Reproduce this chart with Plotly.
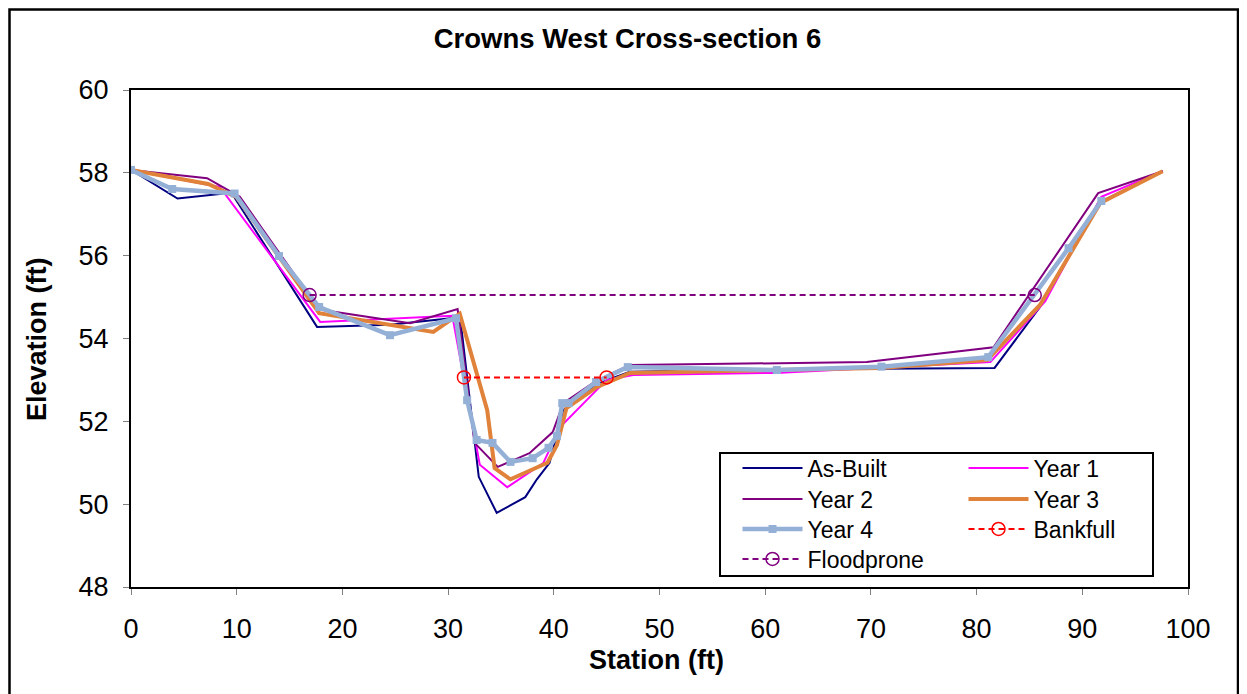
import plotly.graph_objects as go

# --- survey data (station ft, elevation ft) ---
asbuilt_x = [0, 4.4, 9.5, 17.6, 24.5, 30.7, 31.1, 32.9, 34.6, 37.3, 38.4, 39.6, 40.9, 44.0, 47.2, 60.0, 81.7, 86.0, 91.5, 97.6]
asbuilt_y = [58.07, 57.38, 57.52, 54.28, 54.33, 54.50, 54.60, 50.66, 49.79, 50.17, 50.60, 51.00, 52.27, 52.90, 53.20, 53.25, 53.29, 54.76, 57.27, 58.04]

year1_x = [0, 8.4, 17.9, 30.4, 33.0, 35.6, 39.0, 40.6, 45.0, 47.5, 61.0, 81.3, 86.5, 91.8, 97.6]
year1_y = [58.07, 57.66, 54.40, 54.55, 50.95, 50.41, 50.99, 51.86, 53.00, 53.12, 53.17, 53.43, 54.90, 57.42, 58.04]

year2_x = [0, 7.2, 10.3, 17.8, 26.4, 30.9, 32.5, 34.7, 37.7, 39.9, 40.9, 44.0, 47.2, 69.6, 81.6, 91.5, 97.6]
year2_y = [58.07, 57.87, 57.42, 54.70, 54.37, 54.71, 51.48, 50.90, 51.23, 51.74, 52.44, 52.98, 53.36, 53.43, 53.79, 57.51, 58.04]

year3_x = [0, 7.3, 10.0, 17.8, 28.6, 31.1, 33.7, 34.4, 35.9, 39.4, 40.3, 41.2, 44.1, 47.2, 70.9, 81.0, 86.0, 91.7, 97.6]
year3_y = [58.07, 57.73, 57.41, 54.61, 54.16, 54.60, 52.27, 50.87, 50.60, 51.00, 51.43, 52.32, 52.83, 53.17, 53.29, 53.48, 54.81, 57.27, 58.04]

year4_x = [0, 3.9, 9.8, 14.0, 17.8, 24.5, 30.75, 31.8, 32.7, 34.2, 35.9, 38.0, 39.5, 40.3, 40.8, 41.4, 44.0, 47.0, 61.1, 71.0, 81.1, 88.7, 91.8]
year4_y = [58.07, 57.61, 57.50, 55.99, 54.76, 54.08, 54.49, 52.51, 51.55, 51.48, 51.02, 51.11, 51.36, 51.65, 52.44, 52.44, 52.95, 53.31, 53.24, 53.32, 53.55, 56.18, 57.32]

bankfull_x = [31.5, 45.0]
bankfull_y = [53.06, 53.06]

floodprone_x = [16.9, 85.5]
floodprone_y = [55.05, 55.05]

FONT = "Liberation Sans, Arial, sans-serif"

# page body has an 8px margin, so the figure is sized/offset to suit
W, H = 1239, 686
ML, MR, MT, MB = 123, 59, 82, 107
PW, PH = W - ML - MR, H - MT - MB  # 1057 x 497


def px_x(px):
    # screen px (reference picture) -> paper x
    return (px - 8 - ML) / PW


def px_y(py):
    return (H - MB - (py - 8)) / PH


fig = go.Figure()

fig.add_trace(go.Scatter(x=asbuilt_x, y=asbuilt_y, name="As-Built", mode="lines",
                         line=dict(color="#000080", width=2), legend="legend"))
fig.add_trace(go.Scatter(x=year1_x, y=year1_y, name="Year 1", mode="lines",
                         line=dict(color="#FF00FF", width=2), legend="legend2"))
fig.add_trace(go.Scatter(x=year2_x, y=year2_y, name="Year 2", mode="lines",
                         line=dict(color="#800080", width=2), legend="legend3"))
fig.add_trace(go.Scatter(x=year3_x, y=year3_y, name="Year 3", mode="lines",
                         line=dict(color="#E0823A", width=4), legend="legend4"))
fig.add_trace(go.Scatter(x=year4_x, y=year4_y, name="Year 4", mode="lines+markers",
                         line=dict(color="#95B0D6", width=4.5),
                         marker=dict(symbol="square", size=8, color="#95B0D6"), legend="legend5"))
fig.add_trace(go.Scatter(x=bankfull_x, y=bankfull_y, name="Bankfull", mode="lines+markers",
                         line=dict(color="#FF0000", width=2, dash="6px,4px"),
                         marker=dict(symbol="circle-open", size=13, color="#FF0000",
                                     line=dict(width=1.5)), legend="legend6"))
fig.add_trace(go.Scatter(x=floodprone_x, y=floodprone_y, name="Floodprone", mode="lines+markers",
                         line=dict(color="#800080", width=2, dash="6px,4px"),
                         marker=dict(symbol="circle-open", size=13, color="#800080",
                                     line=dict(width=1.5)), legend="legend7"))

axis_common = dict(
    showline=True, linecolor="black", linewidth=2, mirror=True,
    showgrid=False, zeroline=False,
    ticks="outside", ticklen=6, tickcolor="#808080", tickwidth=1,
    tickfont=dict(family=FONT, size=27, color="black"),
)

legend_common = dict(
    font=dict(family=FONT, size=23, color="black"),
    bgcolor="rgba(255,255,255,0)", borderwidth=0,
    xanchor="left", yanchor="top", orientation="v",
    itemwidth=60,
)

# one legend per entry, laid out in two columns like the original key
col1, col2 = px_x(737.5), px_x(963.5)
rows = [px_y(446.5), px_y(477.5), px_y(507.5), px_y(537.5)]

fig.update_layout(
    width=W, height=H,
    margin=dict(l=ML, r=MR, t=MT, b=MB),
    paper_bgcolor="white", plot_bgcolor="white",
    font=dict(family=FONT, color="black"),
    title=dict(text="<b>Crowns West Cross-section 6</b>", x=0.5, xanchor="center",
               y=1 - 30 / H, yanchor="middle", font=dict(family=FONT, size=27.5)),
    xaxis=dict(range=[0, 100], tickvals=list(range(0, 101, 10)), ticklabelstandoff=11, **axis_common),
    yaxis=dict(range=[48, 60], tickvals=list(range(48, 61, 2)), ticklabelstandoff=9, **axis_common),
    legend=dict(x=col1, y=rows[0], **legend_common),
    legend2=dict(x=col2, y=rows[0], **legend_common),
    legend3=dict(x=col1, y=rows[1], **legend_common),
    legend4=dict(x=col2, y=rows[1], **legend_common),
    legend5=dict(x=col1, y=rows[2], **legend_common),
    legend6=dict(x=col2, y=rows[2], **legend_common),
    legend7=dict(x=col1, y=rows[3], **legend_common),
    showlegend=True,
    shapes=[
        # legend frame
        dict(type="rect", xref="paper", yref="paper",
             x0=px_x(720), x1=px_x(1153), y0=px_y(576), y1=px_y(453),
             line=dict(color="black", width=2), fillcolor="white", layer="below"),
        # chart frame
        dict(type="rect", xref="paper", yref="paper",
             x0=px_x(9.5), x1=px_x(1238), y0=px_y(720), y1=px_y(9.5),
             line=dict(color="black", width=2.5), fillcolor="rgba(0,0,0,0)", layer="below"),
    ],
    annotations=[
        dict(text="<b>Elevation (ft)</b>", xref="paper", yref="paper",
             x=px_x(37), y=px_y(339), textangle=-90,
             showarrow=False, xanchor="center", yanchor="middle",
             font=dict(family=FONT, size=27)),
        dict(text="<b>Station (ft)</b>", xref="paper", yref="paper",
             x=px_x(656), y=px_y(660),
             showarrow=False, xanchor="center", yanchor="middle",
             font=dict(family=FONT, size=27)),
    ],
)

fig.write_html("out.html")
